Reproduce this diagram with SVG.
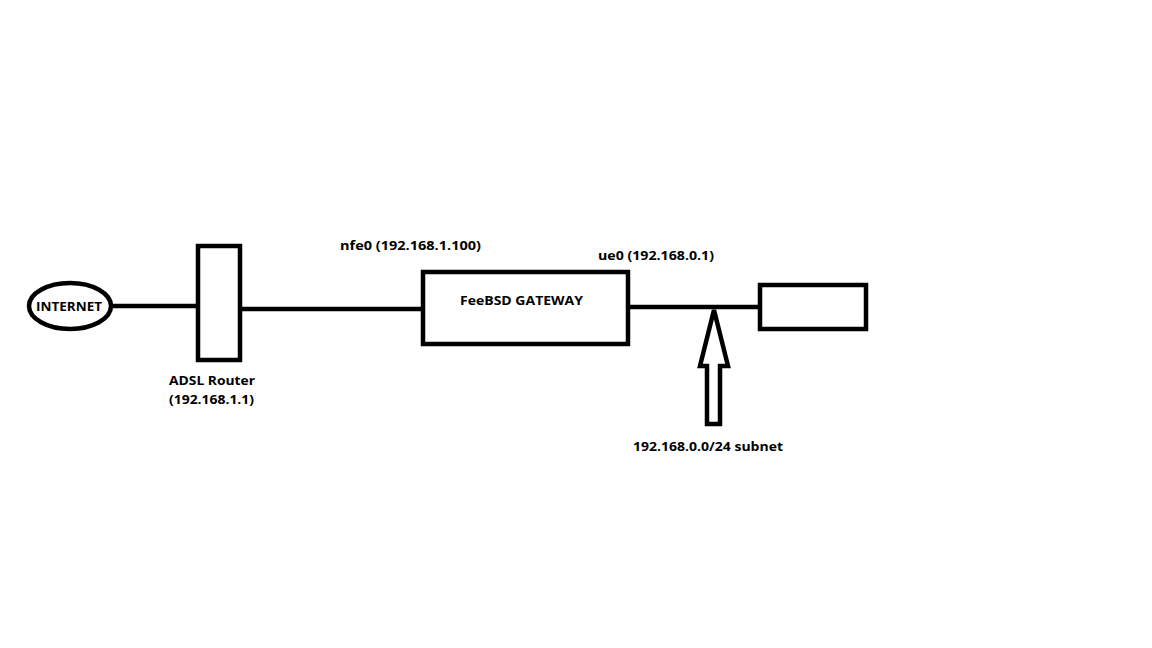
<svg xmlns="http://www.w3.org/2000/svg" width="1152" height="648" viewBox="0 0 1152 648">
<style>
.s{fill:none;stroke:#000;stroke-width:4.5}
.w{fill:#fff;stroke:#000;stroke-width:4.5}
.t{font-family:"Open Sans","Liberation Sans",sans-serif;font-weight:bold;font-size:13px;fill:#000}
</style>
<rect width="1152" height="648" fill="#fff"/>
<g id="connectors">
<line class="s" x1="111" y1="306" x2="198" y2="306"/>
<line class="s" x1="240" y1="309" x2="423" y2="309"/>
<line class="s" x1="627" y1="307" x2="760" y2="307"/>
</g>
<g id="internet">
<ellipse class="w" cx="70" cy="306" rx="41" ry="23"/>
<text class="t" x="69" y="311" text-anchor="middle" textLength="66" lengthAdjust="spacingAndGlyphs">INTERNET</text>
</g>
<g id="router">
<rect class="w" x="198" y="246" width="42" height="114"/>
<text class="t" x="169" y="385" textLength="86" lengthAdjust="spacingAndGlyphs">ADSL Router</text>
<text class="t" x="169" y="404" textLength="85" lengthAdjust="spacingAndGlyphs">(192.168.1.1)</text>
</g>
<g id="nfe0label">
<text class="t" x="340" y="250" textLength="141" lengthAdjust="spacingAndGlyphs">nfe0 (192.168.1.100)</text>
</g>
<g id="gateway">
<rect class="w" x="423" y="272" width="205" height="72"/>
<text class="t" x="460" y="305" textLength="123" lengthAdjust="spacingAndGlyphs">FeeBSD GATEWAY</text>
</g>
<g id="ue0label">
<text class="t" x="598" y="260" textLength="116" lengthAdjust="spacingAndGlyphs">ue0 (192.168.0.1)</text>
</g>
<g id="host">
<rect class="w" x="760" y="285" width="106" height="44"/>
</g>
<g id="subnet">
<polygon class="w" points="714,310 728,366 720,366 720,424 707,424 707,366 700,366"/>
<text class="t" x="633" y="451" textLength="150" lengthAdjust="spacingAndGlyphs">192.168.0.0/24 subnet</text>
</g>
</svg>
